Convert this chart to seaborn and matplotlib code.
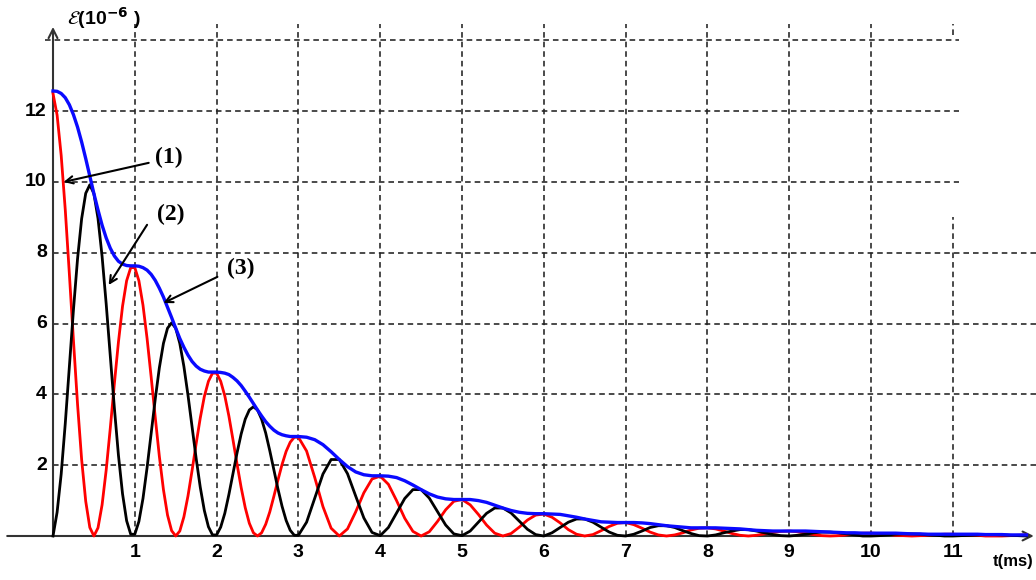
import numpy as np
import matplotlib
matplotlib.use("Agg")
import matplotlib.pyplot as plt
import seaborn as sns

# energies (10^-6 J):
# every 0.05 ms for 0 <= t < 3 ms, then every 0.1 ms up to 11.9 ms
e_electric = [
    12.50, 11.89, 10.75, 9.21, 7.40, 5.52, 3.72, 2.16, 0.98, 0.24,
    0.00, 0.23, 0.88, 1.86, 3.04, 4.30, 5.48, 6.49, 7.21, 7.58,
    7.58, 7.21, 6.52, 5.58, 4.49, 3.35, 2.25, 1.31, 0.59, 0.15,
    0.00, 0.14, 0.54, 1.13, 1.85, 2.61, 3.33, 3.94, 4.37, 4.60,
    4.60, 4.37, 3.96, 3.39, 2.72, 2.03, 1.37, 0.80, 0.36, 0.09,
    0.00, 0.09, 0.33, 0.68, 1.12, 1.58, 2.02, 2.39, 2.65, 2.79,
    2.79, 2.40, 1.65, 0.83, 0.22, 0.00, 0.20, 0.68, 1.22, 1.61,
    1.69, 1.46, 1.00, 0.50, 0.13, 0.00, 0.12, 0.41, 0.74, 0.98,
    1.03, 0.88, 0.61, 0.31, 0.08, 0.00, 0.07, 0.25, 0.45, 0.59,
    0.62, 0.53, 0.37, 0.18, 0.05, 0.00, 0.04, 0.15, 0.27, 0.36,
    0.38, 0.32, 0.22, 0.11, 0.03, 0.00, 0.03, 0.09, 0.17, 0.22,
    0.23, 0.20, 0.14, 0.07, 0.02, 0.00, 0.02, 0.06, 0.10, 0.13,
    0.14, 0.12, 0.08, 0.04, 0.01, 0.00, 0.01, 0.03, 0.06, 0.08,
    0.08, 0.07, 0.05, 0.02, 0.01, 0.00, 0.01, 0.02, 0.04, 0.05,
    0.05, 0.04, 0.03, 0.02, 0.00, 0.00, 0.00, 0.01, 0.02, 0.03,
]
e_magnetic = [
    0.00, 0.67, 1.75, 3.18, 4.78, 6.39, 7.83, 8.96, 9.68, 9.92,
    9.67, 8.97, 7.90, 6.56, 5.09, 3.62, 2.28, 1.19, 0.43, 0.05,
    0.05, 0.41, 1.06, 1.93, 2.90, 3.87, 4.75, 5.44, 5.87, 6.02,
    5.87, 5.44, 4.79, 3.98, 3.09, 2.19, 1.38, 0.72, 0.26, 0.03,
    0.03, 0.25, 0.64, 1.17, 1.76, 2.35, 2.88, 3.30, 3.56, 3.65,
    3.56, 3.30, 2.91, 2.41, 1.87, 1.33, 0.84, 0.44, 0.16, 0.02,
    0.02, 0.39, 1.07, 1.75, 2.16, 2.16, 1.76, 1.13, 0.51, 0.10,
    0.01, 0.24, 0.65, 1.06, 1.31, 1.31, 1.07, 0.69, 0.31, 0.06,
    0.01, 0.14, 0.39, 0.64, 0.79, 0.79, 0.65, 0.42, 0.19, 0.04,
    0.00, 0.09, 0.24, 0.39, 0.48, 0.48, 0.39, 0.25, 0.11, 0.02,
    0.00, 0.05, 0.14, 0.24, 0.29, 0.29, 0.24, 0.15, 0.07, 0.01,
    0.00, 0.03, 0.09, 0.14, 0.18, 0.18, 0.14, 0.09, 0.04, 0.01,
    0.00, 0.02, 0.05, 0.09, 0.11, 0.11, 0.09, 0.06, 0.03, 0.00,
    0.00, 0.01, 0.03, 0.05, 0.06, 0.06, 0.05, 0.03, 0.02, 0.00,
    0.00, 0.01, 0.02, 0.03, 0.04, 0.04, 0.03, 0.02, 0.01, 0.00,
]
e_total = [
    12.57, 12.56, 12.50, 12.38, 12.18, 11.90, 11.55, 11.13, 10.66, 10.17,
    9.67, 9.21, 8.78, 8.42, 8.13, 7.91, 7.76, 7.68, 7.64, 7.63,
    7.63, 7.62, 7.58, 7.51, 7.39, 7.22, 7.00, 6.75, 6.46, 6.17,
    5.87, 5.58, 5.33, 5.11, 4.93, 4.80, 4.71, 4.66, 4.63, 4.63,
    4.63, 4.62, 4.60, 4.56, 4.48, 4.38, 4.25, 4.09, 3.92, 3.74,
    3.56, 3.39, 3.23, 3.10, 2.99, 2.91, 2.86, 2.83, 2.81, 2.81,
    2.81, 2.79, 2.72, 2.58, 2.38, 2.16, 1.96, 1.81, 1.73, 1.70,
    1.70, 1.69, 1.65, 1.56, 1.44, 1.31, 1.19, 1.10, 1.05, 1.03,
    1.03, 1.03, 1.00, 0.95, 0.87, 0.79, 0.72, 0.67, 0.64, 0.63,
    0.63, 0.62, 0.61, 0.57, 0.53, 0.48, 0.44, 0.40, 0.39, 0.38,
    0.38, 0.38, 0.37, 0.35, 0.32, 0.29, 0.27, 0.25, 0.23, 0.23,
    0.23, 0.23, 0.22, 0.21, 0.20, 0.18, 0.16, 0.15, 0.14, 0.14,
    0.14, 0.14, 0.14, 0.13, 0.12, 0.11, 0.10, 0.09, 0.09, 0.08,
    0.08, 0.08, 0.08, 0.08, 0.07, 0.06, 0.06, 0.05, 0.05, 0.05,
    0.05, 0.05, 0.05, 0.05, 0.04, 0.04, 0.04, 0.03, 0.03, 0.03,
]
# sampling instants (ms)
t_fine = np.round(np.arange(60) * 0.05, 2)
t_coarse = np.round(3.0 + np.arange(90) * 0.1, 1)
t_ms = np.concatenate([t_fine, t_coarse])

x_ticks = [1, 2, 3, 4, 5, 6, 7, 8, 9, 10, 11]
y_ticks = [2, 4, 6, 8, 10, 12]
y_grid = [2, 4, 6, 8, 10, 12, 14]

fig = plt.figure(figsize=(10.36, 5.8), dpi=100)
ax = fig.add_axes([0, 0, 1, 1])
ax.set_xlim(-0.648, 12.017)
ax.set_ylim(-1.243, 15.14)
ax.axis('off')

grid_kw = dict(colors='#222222', linewidth=1.15, linestyles=(0, (3.5, 2.5)), zorder=1)
# horizontal grid: lower lines run to the right edge, upper ones stop near t = 11
for yv in y_grid:
    xend = 12.1 if yv <= 8 else 11.08
    xstart = -0.1 if yv == 14 else 0
    ax.hlines(yv, xstart, xend, **grid_kw)
for xv in x_ticks:
    if xv == 11:
        ax.vlines(xv, 0, 9.0, **grid_kw)
        ax.vlines(xv, 14.15, 14.45, **grid_kw)
    else:
        ax.vlines(xv, 0, 14.45, **grid_kw)

# axes with arrow heads
ax.annotate('', xy=(11.99, 0), xytext=(-0.56, 0),
            arrowprops=dict(arrowstyle='->', color='#333333', lw=1.5,
                            shrinkA=0, shrinkB=0, mutation_scale=16), zorder=2)
ax.annotate('', xy=(0, 14.38), xytext=(0, 0),
            arrowprops=dict(arrowstyle='->', color='#333333', lw=1.5,
                            shrinkA=0, shrinkB=0, mutation_scale=16), zorder=2)

sns.lineplot(x=t_ms, y=e_electric, color='#ff0000', linewidth=2.0, ax=ax, zorder=3)
sns.lineplot(x=t_ms, y=e_magnetic, color='black', linewidth=2.0, ax=ax, zorder=4)
sns.lineplot(x=t_ms, y=e_total, color='#0a0aff', linewidth=2.4, ax=ax, zorder=5)

sans = ['Liberation Sans', 'DejaVu Sans']
lab_kw = dict(fontsize=14, fontweight='bold', family=sans)
for yv in y_ticks:
    ax.text(-0.075, yv, str(yv), ha='right', va='center', **lab_kw)
for xv in x_ticks:
    ax.text(xv, -0.48, str(xv), ha='center', va='center', **lab_kw)
ax.text(11.74, -0.73, 't(ms)', ha='center', va='center', fontsize=12,
        fontweight='bold', family=sans)
ax.text(0.17, 14.62, r'$\mathcal{E}$(10$^{\mathbf{-6}}$ )', ha='left', va='center',
        fontsize=14, fontweight='bold', family=sans)

# curve labels with pointer arrows
notes = [('(1)', (1.41, 10.68), (1.17, 10.54), (0.13, 10.0)),
         ('(2)', (1.44, 9.07), (1.15, 8.79), (0.68, 7.09)),
         ('(3)', (2.29, 7.57), (2.01, 7.32), (1.35, 6.58))]
for txt, pos, tail, tip in notes:
    ax.text(pos[0], pos[1], txt, ha='center', va='center', fontsize=17,
            fontweight='bold', family='Liberation Serif', zorder=6)
    ax.annotate('', xy=tip, xytext=tail,
                arrowprops=dict(arrowstyle='->', color='black', lw=1.5,
                                shrinkA=0, shrinkB=0, mutation_scale=13), zorder=6)

fig.savefig('out.png', dpi=100)
